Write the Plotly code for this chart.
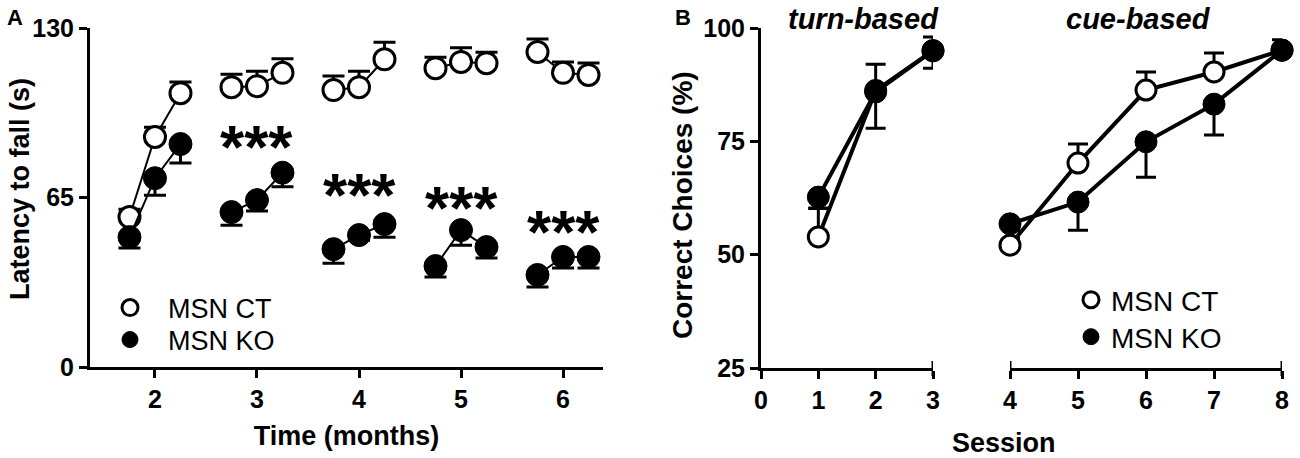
import plotly.graph_objects as go

# ---- Panel A: rotarod latency (s) by age, three trials per month ----
months = [2, 3, 4, 5, 6]
trial_offsets = [-0.25, 0.0, 0.25]

ct_latency = [
    [57.5, 88.2, 105.0],
    [107.3, 107.7, 112.8],
    [106.2, 107.3, 118.0],
    [114.6, 117.0, 116.5],
    [120.8, 112.8, 112.0],
]
ct_latency_err = [
    [3.0, 3.7, 4.3],
    [5.0, 5.7, 5.4],
    [5.4, 6.1, 6.5],
    [4.2, 5.4, 4.2],
    [5.0, 4.2, 4.6],
]
ko_latency = [
    [49.8, 72.4, 85.5],
    [59.4, 64.0, 74.5],
    [45.2, 50.6, 54.8],
    [38.7, 52.5, 46.0],
    [35.3, 42.2, 42.2],
]
ko_latency_err = [
    [4.2, 6.5, 7.3],
    [5.0, 4.2, 5.4],
    [5.4, 2.0, 5.0],
    [4.2, 5.8, 4.2],
    [4.6, 4.2, 4.2],
]
star_months = [3, 4, 5, 6]
star_levels = [87.0, 68.3, 63.3, 54.1]

# ---- Panel B: correct choices (%) per session ----
turn_sessions = [1, 2, 3]
ct_turn = [53.9, 86.2, 95.0]
ct_turn_err = [6.3, 5.8, 3.0]
ko_turn = [62.7, 85.9, 95.0]
ko_turn_err = [2.4, 8.0, 3.9]

cue_sessions = [4, 5, 6, 7, 8]
ct_cue = [52.1, 70.2, 86.3, 90.3, 95.1]
ct_cue_err = [1.5, 4.2, 4.0, 4.2, 2.3]
ko_cue = [56.8, 61.6, 74.9, 83.2, 95.1]
ko_cue_err = [1.5, 6.2, 7.8, 6.8, 1.5]

FONT = "Arial, Liberation Sans, sans-serif"
W, H = 1300, 458


def px_x(p):
    return p / W


def px_y(p):
    return 1 - p / H


def grouped(values):
    # flatten month groups, with None gaps so lines only join within a month
    xs, ys = [], []
    for m, row in zip(months, values):
        xs += [m + o for o in trial_offsets] + [None]
        ys += list(row) + [None]
    return xs, ys


def flat(values):
    out = []
    for row in values:
        out += list(row) + [None]
    return out


def zeros_like(vals):
    return [0 if v is not None else None for v in vals]


open_marker = dict(symbol="circle", color="white", line=dict(color="black", width=3))
fill_marker = dict(symbol="circle", color="black", line=dict(color="black", width=1))

fig = go.Figure()

# Panel A
x_ct, y_ct = grouped(ct_latency)
fig.add_trace(go.Scatter(
    x=x_ct, y=y_ct, mode="lines+markers", name="MSN CT", showlegend=False,
    line=dict(color="black", width=2),
    marker=dict(size=21, **open_marker),
    error_y=dict(type="data", symmetric=False, array=flat(ct_latency_err),
                 arrayminus=zeros_like(flat(ct_latency_err)),
                 color="black", thickness=3, width=11),
    xaxis="x", yaxis="y", cliponaxis=False,
))
x_ko, y_ko = grouped(ko_latency)
fig.add_trace(go.Scatter(
    x=x_ko, y=y_ko, mode="lines+markers", name="MSN KO", showlegend=False,
    line=dict(color="black", width=2),
    marker=dict(size=23, **fill_marker),
    error_y=dict(type="data", symmetric=False, arrayminus=flat(ko_latency_err),
                 array=zeros_like(flat(ko_latency_err)),
                 color="black", thickness=3, width=11),
    xaxis="x", yaxis="y", cliponaxis=False,
))

# Panel B, turn-based and cue-based sessions
for xs, ct, ct_e, ko, ko_e, xa, ya in [
    (turn_sessions, ct_turn, ct_turn_err, ko_turn, ko_turn_err, "x2", "y2"),
    (cue_sessions, ct_cue, ct_cue_err, ko_cue, ko_cue_err, "x3", "y3"),
]:
    fig.add_trace(go.Scatter(
        x=xs, y=ct, mode="lines+markers", name="MSN CT", showlegend=False,
        line=dict(color="black", width=4),
        marker=dict(size=20, **open_marker),
        error_y=dict(type="data", symmetric=False, array=ct_e, arrayminus=[0] * len(ct_e),
                     color="black", thickness=3, width=10),
        xaxis=xa, yaxis=ya, cliponaxis=False,
    ))
    fig.add_trace(go.Scatter(
        x=xs, y=ko, mode="lines+markers", name="MSN KO", showlegend=False,
        line=dict(color="black", width=4),
        marker=dict(size=22, **fill_marker),
        error_y=dict(type="data", symmetric=False, arrayminus=ko_e, array=[0] * len(ko_e),
                     color="black", thickness=3, width=10),
        xaxis=xa, yaxis=ya, cliponaxis=False,
    ))

# legend keys: marker-only entries, one legend box each
legend_keys = [
    ("MSN CT", open_marker, "legend"),
    ("MSN KO", fill_marker, "legend2"),
    ("MSN CT", open_marker, "legend3"),
    ("MSN KO", fill_marker, "legend4"),
]
for name, mk, lg in legend_keys:
    fig.add_trace(go.Scatter(x=[None], y=[None], mode="markers", name=name,
                             marker=dict(size=16, **mk), legend=lg,
                             xaxis="x", yaxis="y"))

tickfont = dict(family=FONT, size=25, color="black", weight="bold")
axis_style = dict(showline=True, linecolor="black", linewidth=3, ticks="outside",
                  ticklen=8, tickwidth=3, tickcolor="black", showgrid=False,
                  zeroline=False, tickfont=tickfont, fixedrange=True, automargin=False)
title_font = dict(family=FONT, size=27, color="black", weight="bold")


def legend_box(xp, yp, size, itemwidth):
    return dict(x=px_x(xp), y=px_y(yp), xanchor="left", yanchor="middle",
                font=dict(family=FONT, size=size, color="black"),
                bgcolor="rgba(0,0,0,0)", itemsizing="trace", itemwidth=itemwidth)


fig.update_layout(
    width=W, height=H, margin=dict(l=0, r=0, t=0, b=0),
    paper_bgcolor="white", plot_bgcolor="white",
    xaxis=dict(domain=[px_x(90), px_x(603)], range=[1.363, 6.392], anchor="y",
               tickvals=months,
               title=dict(text="Time (months)", font=title_font, standoff=15),
               **axis_style),
    yaxis=dict(domain=[px_y(367), px_y(28)], range=[0, 130], anchor="x",
               tickvals=[0, 65, 130], **axis_style),
    xaxis2=dict(domain=[px_x(761), px_x(933)], range=[0, 3], anchor="y2",
                tickvals=[0, 1, 2, 3], **axis_style),
    yaxis2=dict(domain=[px_y(368), px_y(28)], range=[25, 100], anchor="x2",
                tickvals=[25, 50, 75, 100], **axis_style),
    xaxis3=dict(domain=[px_x(1010), px_x(1282)], range=[4, 8], anchor="y3",
                tickvals=cue_sessions, **axis_style),
    yaxis3=dict(domain=[px_y(368), px_y(28)], range=[25, 100], anchor="x3",
                visible=False, fixedrange=True),
    legend=legend_box(92, 308, 27, 66),
    legend2=legend_box(92, 340, 27, 66),
    legend3=legend_box(1071, 300, 28, 30),
    legend4=legend_box(1071, 337, 28, 30),
    showlegend=True,
)

# significance stars
for m, lvl in zip(star_months, star_levels):
    fig.add_annotation(x=m, y=lvl, xref="x", yref="y", text="***", showarrow=False,
                       yanchor="middle", yshift=-6,
                       font=dict(family=FONT, size=62, color="black", weight="bold"))


def paper_text(xp, yp, text, font, angle=0):
    fig.add_annotation(x=px_x(xp), y=px_y(yp), xref="paper", yref="paper", text=text,
                       showarrow=False, xanchor="center", yanchor="middle",
                       textangle=angle, font=font)


bold22 = dict(family=FONT, size=22, color="black", weight="bold")
bold29 = dict(family=FONT, size=29, color="black", weight="bold")

# panel letters, headings and titles
paper_text(15, 18, "A", bold22)
paper_text(683, 18, "B", bold22)
paper_text(863, 19, "<i>turn-based</i>", bold29)
paper_text(1138, 19, "<i>cue-based</i>", bold29)
paper_text(1004, 443, "Session", title_font)
paper_text(20, 189, "Latency to fall (s)", title_font, angle=-90)
paper_text(682, 205, "Correct Choices (%)",
           dict(family=FONT, size=28, color="black", weight="bold"), angle=-90)

# end caps on the session axes (GraphPad style)
for xa, xv in [("x2", 3), ("x3", 4), ("x3", 8)]:
    fig.add_shape(type="line", xref=xa, yref="paper", x0=xv, x1=xv,
                  y0=px_y(376), y1=px_y(361), line=dict(color="black", width=3))

# drop the default body margin so the figure sits at the window corner
fig.write_html("out.html", config={"displayModeBar": False},
               post_script="document.body.style.margin = '0';")
